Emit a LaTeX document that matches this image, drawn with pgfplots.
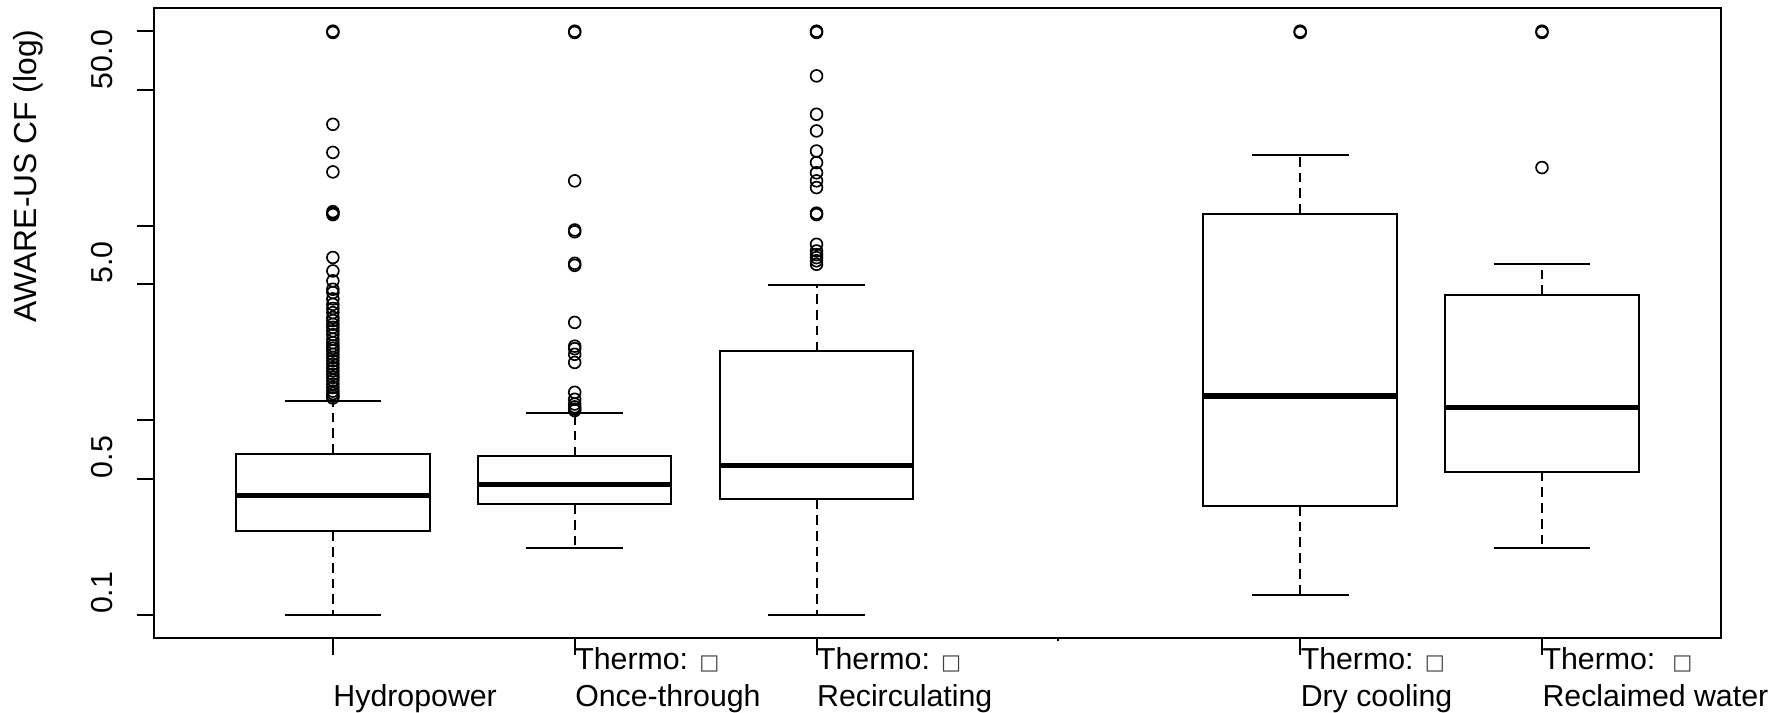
\documentclass[border=0pt]{standalone}
\usepackage{fontspec}
\setmainfont{Liberation Sans}
\newfontfamily\dejavu{DejaVu Sans}
\usepackage{pgfplots}
\pgfplotsset{compat=1.18}
\usepgfplotslibrary{statistics}

\newcommand{\tofu}{{\dejavu\fontsize{7}{7}\selectfont\textcolor{black!75}{□}}}

% R-style boxplot: dashed whisker stems, solid staples, thick median
\pgfplotsset{
  rbox/.style={
    black, line width=0.65pt, solid,
    mark=o, mark size=1.95pt, mark options={line width=0.55pt, solid},
    boxplot/draw direction=y,
    boxplot/box extend=0.8,
    boxplot/whisker extend=0.4,
    boxplot/every median/.style={line width=1.9pt},
    boxplot/draw/lower whisker/.code={
      \draw[dash pattern=on 3.2pt off 2pt]
        (boxplot box cs:\pgfplotsboxplotvalue{lower quartile},0.5) --
        (boxplot box cs:\pgfplotsboxplotvalue{lower whisker},0.5);
      \draw (boxplot whisker cs:\pgfplotsboxplotvalue{lower whisker},0) --
            (boxplot whisker cs:\pgfplotsboxplotvalue{lower whisker},1);
    },
    boxplot/draw/upper whisker/.code={
      \draw[dash pattern=on 3.2pt off 2pt]
        (boxplot box cs:\pgfplotsboxplotvalue{upper quartile},0.5) --
        (boxplot box cs:\pgfplotsboxplotvalue{upper whisker},0.5);
      \draw (boxplot whisker cs:\pgfplotsboxplotvalue{upper whisker},0) --
            (boxplot whisker cs:\pgfplotsboxplotvalue{upper whisker},1);
    },
  },
}

\begin{document}
\begin{tikzpicture}
\begin{axis}[
  at={(0,0)}, anchor=south west,
  scale only axis, width=517.1pt, height=207.9pt,
  xmin=0.26, xmax=6.74,
  ymode=log, ymin=0.0759, ymax=131.8,
  axis line style={line width=0.65pt},
  tick align=outside, major tick length=5.6pt,
  tick style={black, line width=0.65pt},
  xtick pos=bottom, ytick pos=left,
  minor tick num=0,
  ytick={0.1,0.5,1,5,10,50,100},
  yticklabels={0.1,0.5,,5.0,,50.0,},
  yticklabel style={xshift=-8.2pt, rotate=90, anchor=base west, inner sep=0pt},
  xtick={1,2,3,5,6},
  xticklabels={
    {\strut\\\strut Hydropower},
    {\strut Thermo: \tofu\\\strut Once-through},
    {\strut Thermo: \tofu\\\strut Recirculating},
    {\strut Thermo: \tofu\\\strut Dry cooling},
    {\strut Thermo:\ \ \tofu\\\strut Reclaimed water}},
  xticklabel style={anchor=north west, align=left, inner sep=0pt, yshift=3.6pt},
  extra x ticks={4}, extra x tick labels={},
  extra x tick style={major tick length=1pt},
]

% Hydropower
\addplot[rbox, boxplot prepared={draw position=1,
  lower whisker=0.1, lower quartile=0.268, median=0.41,
  upper quartile=0.67, upper whisker=1.26}]
  coordinates {(0,100) (0,98.5) (0,33.2) (0,23.8) (0,18.9) (0,11.4) (0,11.6) (0,11.8)
  (0,6.86) (0,5.85) (0,5.2) (0,4.71) (0,4.53) (0,4.2) (0,3.94) (0,3.75) (0,3.57)
  (0,3.37) (0,3.25) (0,3.11) (0,3.0) (0,2.88) (0,2.75) (0,2.61) (0,2.5) (0,2.41)
  (0,2.34) (0,2.27) (0,2.18) (0,2.10) (0,2.02) (0,1.94) (0,1.86) (0,1.79) (0,1.72)
  (0,1.66) (0,1.6) (0,1.53) (0,1.47) (0,1.41) (0,1.37) (0,1.33) (0,1.3)};

% Thermo: Once-through
\addplot[rbox, boxplot prepared={draw position=2,
  lower whisker=0.219, lower quartile=0.37, median=0.466,
  upper quartile=0.652, upper whisker=1.09}]
  coordinates {(0,100) (0,98.5) (0,17.0) (0,9.3) (0,9.5) (0,6.25) (0,6.4) (0,3.18)
  (0,2.33) (0,2.4) (0,2.18) (0,1.98) (0,1.39) (0,1.28) (0,1.21) (0,1.17) (0,1.14) (0,1.12)};

% Thermo: Recirculating
\addplot[rbox, boxplot prepared={draw position=3,
  lower whisker=0.1, lower quartile=0.391, median=0.585,
  upper quartile=2.26, upper whisker=4.93}]
  coordinates {(0,100) (0,98.5) (0,58.9) (0,37.4) (0,30.7) (0,24.2) (0,21.1) (0,18.7)
  (0,17.0) (0,15.7) (0,11.4) (0,11.6) (0,8.02) (0,7.41) (0,7.1) (0,6.85) (0,6.6) (0,6.33)};

% Thermo: Dry cooling
\addplot[rbox, boxplot prepared={draw position=5,
  lower whisker=0.126, lower quartile=0.362, median=1.33,
  upper quartile=11.5, upper whisker=23.0}]
  coordinates {(0,100) (0,98.5)};

% Thermo: Reclaimed water
\addplot[rbox, boxplot prepared={draw position=6,
  lower whisker=0.219, lower quartile=0.544, median=1.16,
  upper quartile=4.40, upper whisker=6.34}]
  coordinates {(0,100) (0,98.5) (0,19.9)};

\end{axis}
\node[rotate=90, anchor=base west, inner sep=0pt, font=\fontsize{10.5}{12.6}\selectfont] at (-38.6pt,103.95pt) {AWARE-US CF (log)};
\pgfresetboundingbox
\path[use as bounding box] (-50.8pt,-24.75pt) rectangle (538.9pt,210.5pt);
\end{tikzpicture}
\end{document}
